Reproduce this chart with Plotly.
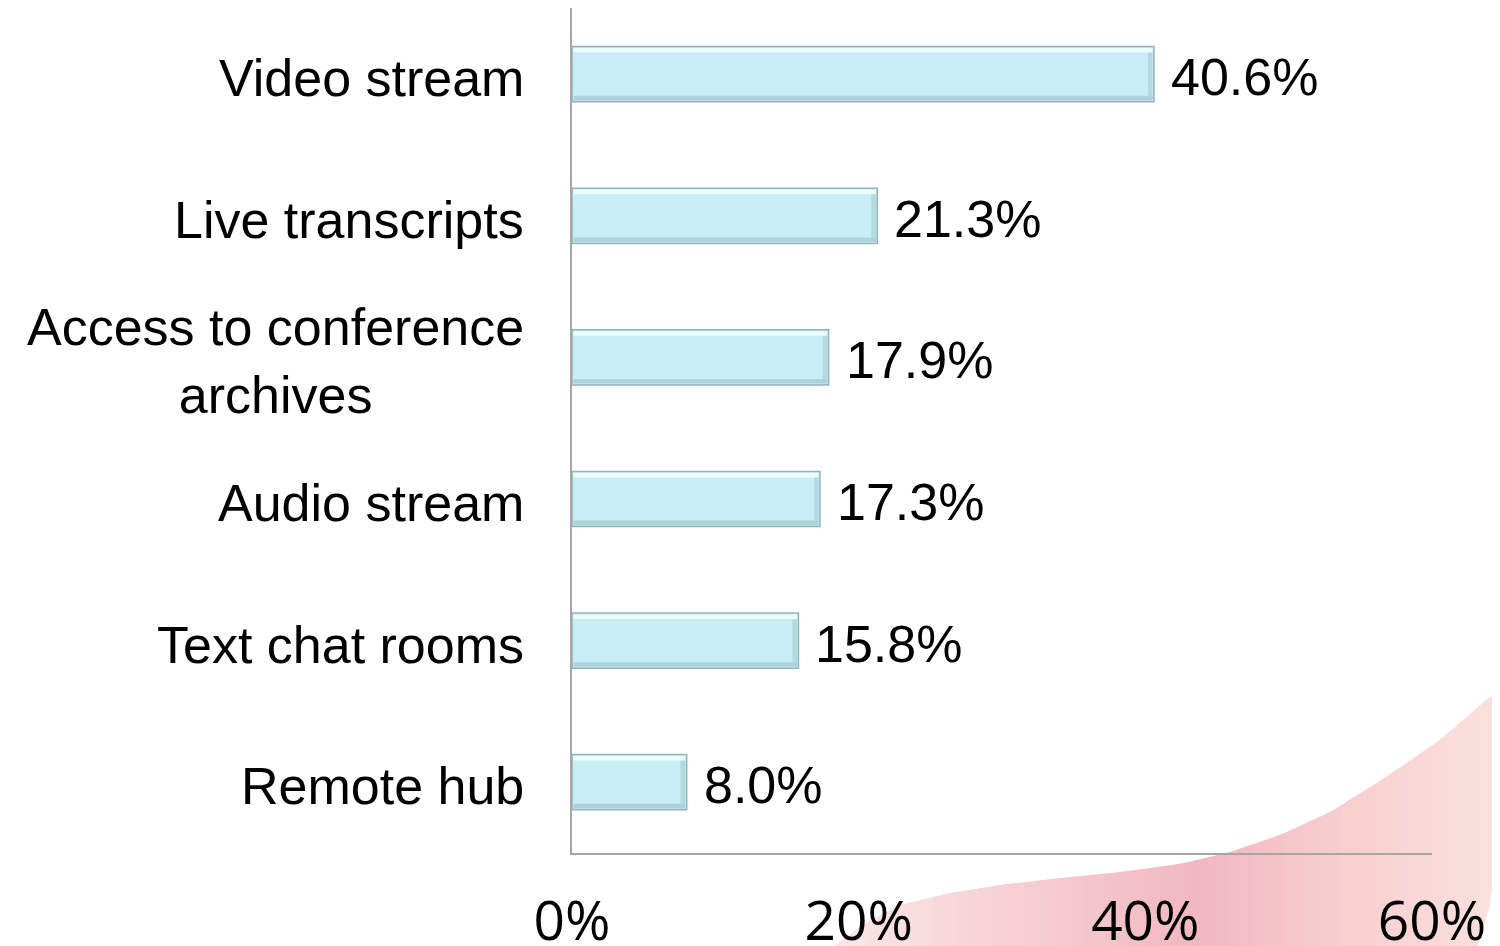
import numpy as np
import plotly.graph_objects as go

categories = ["Video stream", "Live transcripts", "Access to conference<br>archives",
              "Audio stream", "Text chat rooms", "Remote hub"]
values = [40.6, 21.3, 17.9, 17.3, 15.8, 8.0]
tick_vals = [0, 20, 40, 60]
tick_text = ["0%", "20%", "40%", "60%"]

OFF = 8  # page body margin
W, H = 1500 - OFF, 946 - OFF
ML, MR, MT, MB = 572 - OFF, 68, 0, 93
PW, PH = W - ML - MR, H - MT - MB
SLOT = 141.6
y_top = -0.5 + PH / SLOT
BAR_W = 0.39

fig = go.Figure()
fig.add_trace(go.Bar(
    x=values, y=categories, orientation="h", width=BAR_W,
    marker=dict(color="#c8eef5", line=dict(color="#93b3bb", width=1.5)),
    hoverinfo="skip",
))

annotations = []
for c, v in zip(categories, values):
    annotations.append(dict(x=v, y=c, xref="x", yref="y", text=f"{v:.1f}%",
                            showarrow=False, xanchor="left", xshift=15, yshift=-3,
                            font=dict(family="Liberation Sans, Arial", size=52, color="#000")))
    annotations.append(dict(x=0, y=c, xref="paper", yref="y", text=c,
                            showarrow=False, xanchor="right", xshift=-46, align="center",
                            yshift=-4,
                            font=dict(family="Liberation Sans, Arial", size=52, color="#000")))

shapes = []
# bevel highlights on bars (derived from data values)
px_per_unit_x = PW / 60.0
hb = BAR_W / 2
band_y = 6 / SLOT
band_x = 6 / px_per_unit_x
n = len(categories)
for i, v in enumerate(values):
    idx = n - 1 - i
    shapes.append(dict(type="rect", xref="x", yref="y", x0=0.1, x1=v - 0.1,
                       y0=idx + hb - band_y, y1=idx + hb - 0.01,
                       fillcolor="rgba(240,253,255,0.9)", line=dict(width=0), layer="above"))
    shapes.append(dict(type="rect", xref="x", yref="y", x0=0.1, x1=v - 0.1,
                       y0=idx - hb + 0.01, y1=idx - hb + band_y,
                       fillcolor="rgba(150,190,198,0.55)", line=dict(width=0), layer="above"))
    shapes.append(dict(type="rect", xref="x", yref="y", x0=v - band_x, x1=v - 0.1,
                       y0=idx - hb + band_y, y1=idx + hb - band_y,
                       fillcolor="rgba(160,198,205,0.5)", line=dict(width=0), layer="above"))

# decorative pink swoosh (background ornament), pixel coords of the viewport -> paper
def px2paper(px, py):
    return (px - OFF - ML) / PW, (H - MB - (py - OFF)) / PH

top_x = np.array([830, 860, 900, 950, 1000, 1060, 1120, 1180, 1230, 1280, 1330, 1380, 1440, 1500])
top_y = np.array([950, 926, 905, 893, 885, 878, 872, 864, 852, 835, 812, 781, 740, 688])
bot_x = np.array([830, 1468, 1478, 1490, 1500])
bot_y = np.array([960, 960, 946, 905, 845])
col_x = np.array([830, 1000, 1200, 1350, 1500])
col_rgb = np.array([[251, 232, 232], [247, 210, 213], [242, 184, 194], [247, 208, 208], [251, 226, 222]])

xs = np.linspace(832, 1500, 60)
for i in range(len(xs) - 1):
    x0, x1 = xs[i], xs[i + 1] + 0.8
    t0, t1 = np.interp(x0, top_x, top_y), np.interp(x1, top_x, top_y)
    b0, b1 = np.interp(x0, bot_x, bot_y), np.interp(x1, bot_x, bot_y)
    xm = 0.5 * (x0 + x1)
    rgb = [int(np.interp(xm, col_x, col_rgb[:, k])) for k in range(3)]
    pts = [px2paper(x0, t0), px2paper(x1, t1), px2paper(x1, b1), px2paper(x0, b0)]
    path = "M " + " L ".join(f"{a:.5f},{b:.5f}" for a, b in pts) + " Z"
    shapes.append(dict(type="path", xref="paper", yref="paper", path=path,
                       fillcolor=f"rgb({rgb[0]},{rgb[1]},{rgb[2]})",
                       line=dict(width=0), layer="below"))

fig.update_layout(
    width=W, height=H,
    margin=dict(l=ML, r=MR, t=MT, b=MB, autoexpand=False),
    paper_bgcolor="white", plot_bgcolor="rgba(0,0,0,0)",
    showlegend=False, bargap=0.6,
    annotations=annotations, shapes=shapes,
    xaxis=dict(range=[0, 60], tickvals=tick_vals, ticktext=tick_text, automargin=False,
               showgrid=False, zeroline=False, showline=True, linecolor="#a6a6a6", linewidth=2,
               ticks="outside", ticklen=0, ticklabelstandoff=19,
               tickfont=dict(family="Liberation Sans Narrow, Open Sans, Arial", size=55, color="#000")),
    yaxis=dict(categoryorder="array", categoryarray=categories[::-1], range=[-0.5, y_top],
               showticklabels=False, showgrid=False, zeroline=False, automargin=False,
               showline=True, linecolor="#a6a6a6", linewidth=2),
)

fig.write_html("out.html")
